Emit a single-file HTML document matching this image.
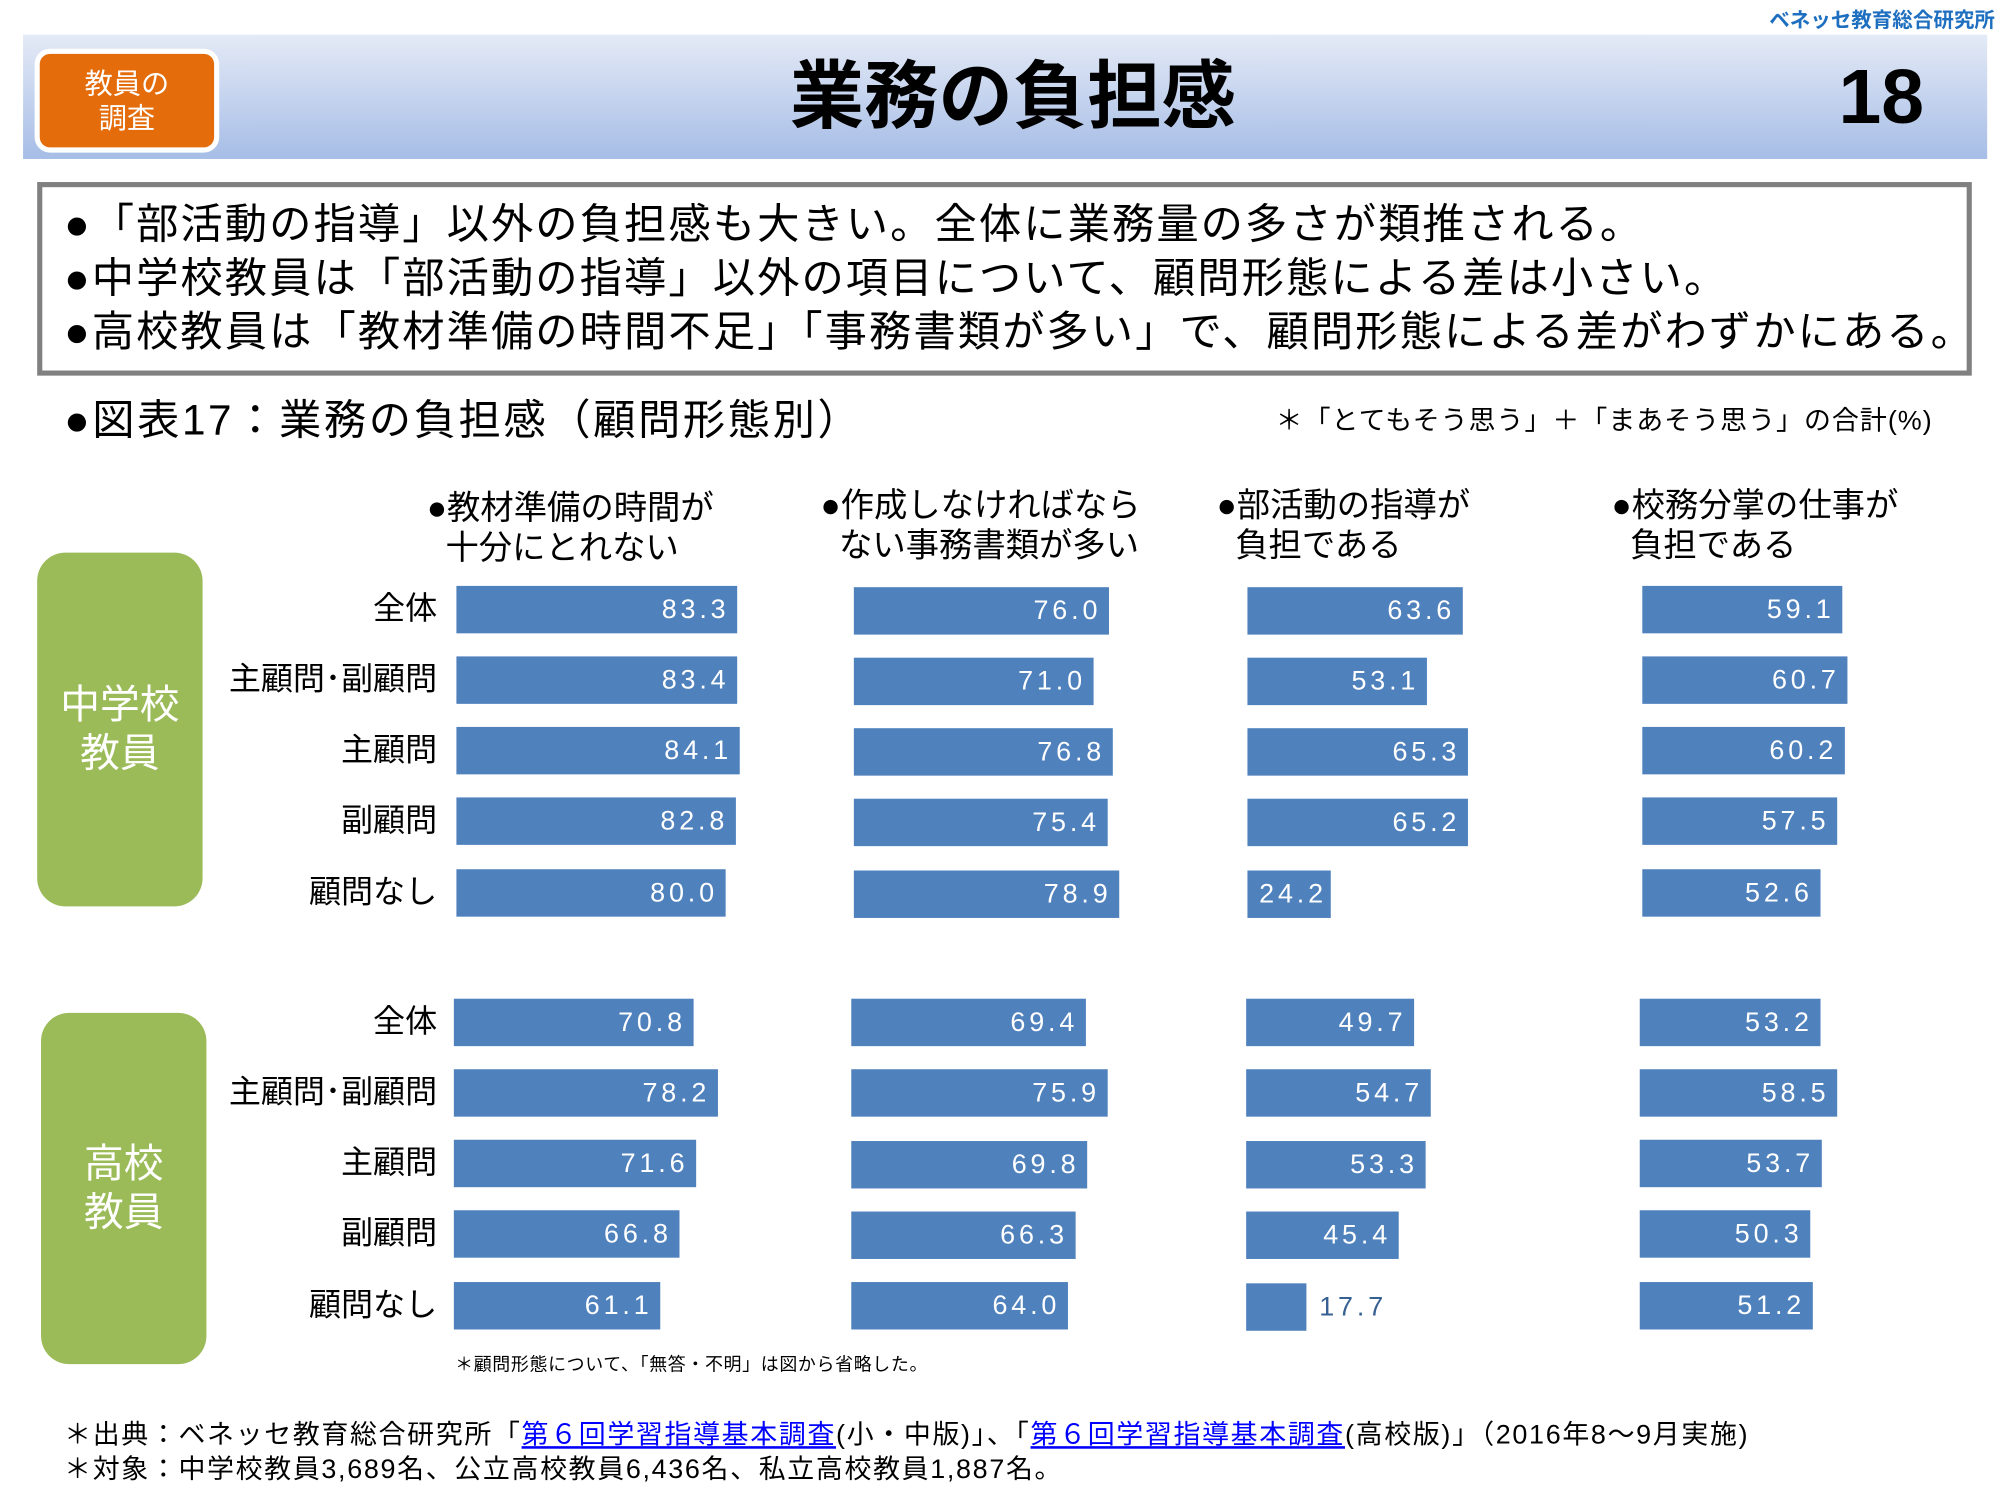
<!DOCTYPE html>
<html><head><meta charset="utf-8">
<style>
html,body{margin:0;padding:0;background:#fff;}
body{width:2000px;height:1500px;overflow:hidden;position:relative;}
#s{position:absolute;left:0;top:0;width:1560px;height:1170px;transform:scale(1.28205);transform-origin:0 0;font-family:"Liberation Sans","Noto Sans CJK JP",sans-serif;color:#000;}
.a{position:absolute;white-space:nowrap;}
.bar{position:absolute;background:#4f81bd;height:37px;color:#fff;font-size:21px;letter-spacing:3px;text-align:right;line-height:37px;box-sizing:border-box;padding-right:6px;}
.lbl{position:absolute;right:1219px;font-size:25px;line-height:37px;white-space:nowrap;}
.hd{position:absolute;font-size:26px;line-height:31px;white-space:nowrap;}
.grn{position:absolute;background:#9bbb59;border-radius:22px;color:#fff;font-size:31px;line-height:38px;text-align:center;display:flex;align-items:center;justify-content:center;}
a{color:#0000ff;text-decoration:underline;}
</style></head><body><div id="s">
<div class="a" style="left:1380px;top:2px;font-size:16px;color:#1f6fc0;font-weight:bold;">ベネッセ教育総合研究所</div>
<div class="a" style="left:18px;top:27px;width:1532px;height:97px;background:linear-gradient(#e4eaf6,#a6bde6);"></div>
<div class="a" style="left:27px;top:38px;width:136px;height:73px;background:#e46c0a;border:4px solid #fff;border-radius:12px;color:#fff;font-size:22px;line-height:27px;text-align:center;display:flex;align-items:center;justify-content:center;white-space:normal;">教員の<br>調査</div>
<div class="a" style="left:560px;top:38px;width:460px;text-align:center;font-size:58px;font-weight:bold;line-height:75px;">業務の負担感</div>
<div class="a" style="left:1434px;top:38px;font-size:60px;font-weight:bold;line-height:75px;">18</div>
<div class="a" style="left:29px;top:142px;width:1501px;height:143px;border:4px solid #808080;"></div>
<div class="a" style="left:50px;top:154px;font-size:33px;line-height:42px;letter-spacing:1.6px;">●「部活動の指導」以外の負担感も大きい。全体に業務量の多さが類推される。<br>●中学校教員は「部活動の指導」以外の項目について、顧問形態による差は小さい。<br>●高校教員は「教材準備の時間不足」「事務書類が多い」で、顧問形態による差がわずかにある。</div>
<div class="a" style="left:50px;top:308px;font-size:33px;line-height:40px;letter-spacing:2px;">●図表17：業務の負担感（顧問形態別）</div>
<div class="a" style="left:995px;top:316px;font-size:21px;line-height:26px;letter-spacing:0.8px;">＊「とてもそう思う」＋「まあそう思う」の合計(%)</div>
<div class="hd" style="left:333px;top:381px;">●教材準備の時間が<br>&nbsp;&nbsp;十分にとれない</div>
<div class="hd" style="left:640px;top:379px;">●作成しなければなら<br>&nbsp;&nbsp;ない事務書類が多い</div>
<div class="hd" style="left:949px;top:379px;">●部活動の指導が<br>&nbsp;&nbsp;負担である</div>
<div class="hd" style="left:1257px;top:379px;">●校務分掌の仕事が<br>&nbsp;&nbsp;負担である</div>
<div class="grn" style="left:29px;top:431px;width:129px;height:276px;">中学校<br>教員</div>
<div class="grn" style="left:32px;top:790px;width:129px;height:274px;">高校<br>教員</div>
<div class="lbl" style="top:457px;">全体</div>
<div class="lbl" style="top:512px;">主顧問･副顧問</div>
<div class="lbl" style="top:567px;">主顧問</div>
<div class="lbl" style="top:622px;">副顧問</div>
<div class="lbl" style="top:678px;">顧問なし</div>
<div class="lbl" style="top:779px;">全体</div>
<div class="lbl" style="top:834px;">主顧問･副顧問</div>
<div class="lbl" style="top:889px;">主顧問</div>
<div class="lbl" style="top:944px;">副顧問</div>
<div class="lbl" style="top:1000px;">顧問なし</div>

<div class="bar" style="left:356px;top:457px;width:219px;">83.3</div>
<div class="bar" style="left:356px;top:512px;width:219px;">83.4</div>
<div class="bar" style="left:356px;top:567px;width:221px;">84.1</div>
<div class="bar" style="left:356px;top:622px;width:218px;">82.8</div>
<div class="bar" style="left:356px;top:678px;width:210px;">80.0</div>
<div class="bar" style="left:666px;top:458px;width:199px;">76.0</div>
<div class="bar" style="left:666px;top:513px;width:187px;">71.0</div>
<div class="bar" style="left:666px;top:568px;width:202px;">76.8</div>
<div class="bar" style="left:666px;top:623px;width:198px;">75.4</div>
<div class="bar" style="left:666px;top:679px;width:207px;">78.9</div>
<div class="bar" style="left:973px;top:458px;width:168px;">63.6</div>
<div class="bar" style="left:973px;top:513px;width:140px;">53.1</div>
<div class="bar" style="left:973px;top:568px;width:172px;">65.3</div>
<div class="bar" style="left:973px;top:623px;width:172px;">65.2</div>
<div class="bar" style="left:973px;top:679px;width:65px;padding-right:3px;">24.2</div>
<div class="bar" style="left:1281px;top:457px;width:156px;">59.1</div>
<div class="bar" style="left:1281px;top:512px;width:160px;">60.7</div>
<div class="bar" style="left:1281px;top:567px;width:158px;">60.2</div>
<div class="bar" style="left:1281px;top:622px;width:152px;">57.5</div>
<div class="bar" style="left:1281px;top:678px;width:139px;">52.6</div>

<div class="bar" style="left:354px;top:779px;width:187px;">70.8</div>
<div class="bar" style="left:354px;top:834px;width:206px;">78.2</div>
<div class="bar" style="left:354px;top:889px;width:189px;">71.6</div>
<div class="bar" style="left:354px;top:944px;width:176px;">66.8</div>
<div class="bar" style="left:354px;top:1000px;width:161px;">61.1</div>
<div class="bar" style="left:664px;top:779px;width:183px;">69.4</div>
<div class="bar" style="left:664px;top:834px;width:200px;">75.9</div>
<div class="bar" style="left:664px;top:890px;width:184px;">69.8</div>
<div class="bar" style="left:664px;top:945px;width:175px;">66.3</div>
<div class="bar" style="left:664px;top:1000px;width:169px;">64.0</div>
<div class="bar" style="left:972px;top:779px;width:131px;">49.7</div>
<div class="bar" style="left:972px;top:834px;width:144px;">54.7</div>
<div class="bar" style="left:972px;top:890px;width:140px;">53.3</div>
<div class="bar" style="left:972px;top:945px;width:119px;">45.4</div>
<div class="bar" style="left:972px;top:1001px;width:47px;"></div>
<div class="a" style="left:1029px;top:1001px;font-size:21px;letter-spacing:3px;line-height:37px;color:#376092;">17.7</div>
<div class="bar" style="left:1279px;top:779px;width:141px;">53.2</div>
<div class="bar" style="left:1279px;top:834px;width:154px;">58.5</div>
<div class="bar" style="left:1279px;top:889px;width:142px;">53.7</div>
<div class="bar" style="left:1279px;top:944px;width:133px;">50.3</div>
<div class="bar" style="left:1279px;top:1000px;width:135px;">51.2</div>

<div class="a" style="left:355px;top:1055px;font-size:14px;line-height:18px;letter-spacing:0.5px;">＊顧問形態について、「無答・不明」は図から省略した。</div>
<div class="a" style="left:50px;top:1106px;font-size:21px;line-height:27px;letter-spacing:1.3px;">＊出典：ベネッセ教育総合研究所「<a>第６回学習指導基本調査</a>(小・中版)」、「<a>第６回学習指導基本調査</a>(高校版)」（2016年8～9月実施)<br>＊対象：中学校教員3,689名、公立高校教員6,436名、私立高校教員1,887名。</div>
</div></body></html>
